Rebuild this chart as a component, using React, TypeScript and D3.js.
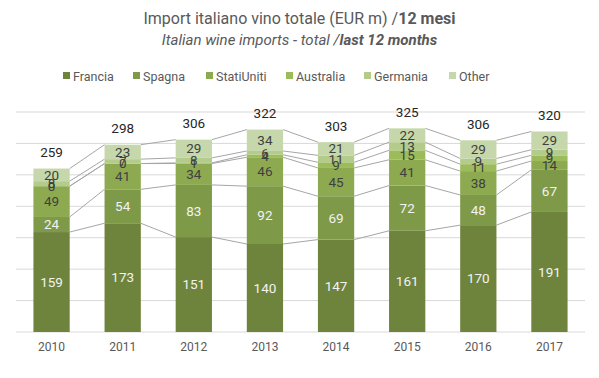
import React from "react";
import * as d3 from "d3";

const years = ["2010", "2011", "2012", "2013", "2014", "2015", "2016", "2017"];
const seriesNames = ["Francia", "Spagna", "StatiUniti", "Australia", "Germania", "Other"];
const francia = [159, 173, 151, 140, 147, 161, 170, 191];
const spagna = [24, 54, 83, 92, 69, 72, 48, 67];
const statiUniti = [49, 41, 34, 46, 45, 41, 38, 14];
const australia = [0, 0, 1, 4, 9, 15, 11, 9];
const germania = [8, 7, 8, 6, 11, 13, 9, 9];
const other = [20, 23, 29, 34, 21, 22, 29, 29];
const totals = [259, 298, 306, 322, 303, 325, 306, 320];
const colors = ["#6E843D", "#7E9A48", "#8DAA50", "#9CBB5A", "#B3CB8B", "#C6D8AB"];
const labelColors = ["#F2F2F2", "#F2F2F2", "#404040", "#404040", "#404040", "#404040"];
const yTicks = [0, 50, 100, 150, 200, 250, 300, 350];

const W = 599;
const H = 378;
const FONT = "'Roboto', 'Liberation Sans', sans-serif";

export default function App() {
  const seriesValues = [francia, spagna, statiUniti, australia, germania, other];
  const rows = years.map((y, i) => {
    const r: any = { year: y };
    seriesNames.forEach((s, k) => (r[s] = seriesValues[k][i]));
    return r;
  });
  const stacked = d3.stack<any>().keys(seriesNames)(rows);

  const x = d3.scaleBand().domain(years).range([16, 585]).paddingInner(0.49).paddingOuter(0.245);
  const y = d3.scaleLinear().domain([0, 350]).range([332, 112]);
  const bw = x.bandwidth();

  const legendX = [63, 133, 206, 286, 364, 449];

  return (
    <svg width={W} height={H} style={{ position: "absolute", left: 0, top: 0, background: "#fff", whiteSpace: "pre" }}>
      <rect x={0} y={0} width={W} height={H} fill="#fff" />
      <text x={W / 2} y={24} textAnchor="middle" fontFamily={FONT} fontSize={16} fill="#595959">
        <tspan>Import  italiano vino totale (EUR m) /</tspan>
        <tspan fontWeight="bold">12 mesi</tspan>
      </text>
      <text x={W / 2} y={45} textAnchor="middle" fontFamily={FONT} fontSize={15} fontStyle="italic" fill="#595959">
        <tspan>Italian wine imports - total /</tspan>
        <tspan fontWeight="bold">last 12 months</tspan>
      </text>
      {seriesNames.map((s, k) => (
        <g key={s}>
          <rect x={legendX[k]} y={72} width={7} height={7} fill={colors[k]} />
          <text x={legendX[k] + 10} y={80.5} fontFamily={FONT} fontSize={12.5} fill="#595959">
            {s}
          </text>
        </g>
      ))}
      {yTicks.map((t) => (
        <line key={t} x1={16} x2={585} y1={y(t)} y2={y(t)} stroke="#D9D9D9" strokeWidth={1} />
      ))}
      {stacked.map((layer, k) =>
        layer.slice(0, -1).map((d, i) => {
          const nx = layer[i + 1];
          return (
            <line
              key={`sl-${k}-${i}`}
              x1={(x(years[i]) as number) + bw}
              x2={x(years[i + 1]) as number}
              y1={y(d[1])}
              y2={y(nx[1])}
              stroke="#A6A6A6"
              strokeWidth={1}
            />
          );
        })
      )}
      {stacked.map((layer, k) =>
        layer.map((d, i) => (
          <rect
            key={`r-${k}-${i}`}
            x={x(years[i]) as number}
            y={y(d[1])}
            width={bw}
            height={y(d[0]) - y(d[1])}
            fill={colors[k]}
          />
        ))
      )}
      {stacked.map((layer, k) =>
        layer.map((d, i) => (
          <text
            key={`l-${k}-${i}`}
            x={(x(years[i]) as number) + bw / 2}
            y={(y(d[0]) + y(d[1])) / 2}
            dy="0.35em"
            textAnchor="middle"
            fontFamily={FONT}
            fontSize={13.5}
            fill={labelColors[k]}
          >
            {seriesValues[k][i]}
          </text>
        ))
      )}
      {years.map((yr, i) => (
        <text
          key={`t-${yr}`}
          x={(x(yr) as number) + bw / 2}
          y={y(stacked[5][i][1]) - 16}
          dy="0.35em"
          textAnchor="middle"
          fontFamily={FONT}
          fontSize={13.5}
          fill="#262626"
        >
          {totals[i]}
        </text>
      ))}
      {years.map((yr) => (
        <text
          key={`x-${yr}`}
          x={(x(yr) as number) + bw / 2}
          y={347}
          dy="0.35em"
          textAnchor="middle"
          fontFamily={FONT}
          fontSize={12}
          fill="#595959"
        >
          {yr}
        </text>
      ))}
    </svg>
  );
}
